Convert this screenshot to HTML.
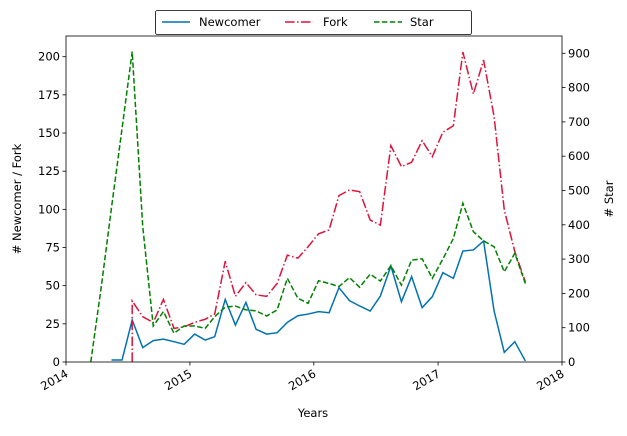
<!DOCTYPE html>
<html><head><meta charset="utf-8"><style>
html,body{margin:0;padding:0;background:#fff;}
svg text{font-family:"DejaVu Sans","Liberation Sans",sans-serif;font-size:11.5px;fill:#000;}
</style></head><body>
<svg id="chart" width="627" height="431" xmlns="http://www.w3.org/2000/svg">
<rect x="66" y="36" width="496" height="326" fill="#fff" stroke="none"/>
<g id="series"></g>
<rect x="66" y="36" width="496" height="326" fill="none" stroke="#000" stroke-width="0.8"/>
<g id="axes"></g>
<text x="313" y="417" text-anchor="middle">Years</text>
<text transform="translate(21,199) rotate(-90)" text-anchor="middle"># Newcomer / Fork</text>
<text transform="translate(613,199) rotate(-90)" text-anchor="middle"># Star</text>
<g>
<rect x="155.5" y="10.5" width="316" height="24" rx="2" fill="#fff" stroke="#000" stroke-width="0.8"/>
<line x1="162" y1="22" x2="190" y2="22" stroke="#0072b2" stroke-width="1.5"/>
<text x="199" y="26">Newcomer</text>
<line x1="285" y1="22" x2="313" y2="22" stroke="#dc143c" stroke-width="1.5" stroke-dasharray="9.6,2.4,1.5,2.4"/>
<text x="323" y="26">Fork</text>
<line x1="374" y1="22" x2="402" y2="22" stroke="#008000" stroke-width="1.5" stroke-dasharray="5.5,2.4"/>
<text x="410" y="26">Star</text>
</g>
</svg>
<script>
// months from Mar 2014 (index 0) to Sep 2017 (index 42)
const startYear = 2014, startMonth = 3;
const newcomer = [null,null,1.3,1.3,27.5,9.4,14,15,13.3,11.6,18.3,14.4,16.6,41,24.2,39,21.4,18.3,19.2,26,30.3,31.4,33,32.3,48.7,40.2,36.7,33.4,43.2,62.9,39.5,55.9,35.6,42.8,58.5,54.8,72.7,73.4,79.3,33.4,6.3,13.3,0.7];
const fork = [null,null,null,null,40,29.7,25.8,41,22,23,26,28,31.4,66,43,52,44,43,51.5,70,68,75.5,84,86.5,109,112.7,111.6,93,89.7,141.7,128,130.8,145,134.5,150.5,154.8,203,175.6,197.8,160.7,99.6,72.3,52.6];
const star = [0,220,450,680,905,395,105,147,84,105,105,98,132,160,163,152,149,134,152,244,186,171,237,229,220,246,218,256,236,281,224,297,301,244,300,360,463,380,353,336,263,317,229];
const leftTicks = [0,25,50,75,100,125,150,175,200];
const rightTicks = [0,100,200,300,400,500,600,700,800,900];
const yearTicks = [2014,2015,2016,2017,2018];

const NS = "http://www.w3.org/2000/svg";
const X0=66, X1=562, Y0=362;
const t0 = Date.UTC(2014,0,1), t1 = Date.UTC(2018,0,1);
function xDate(y,m,d){ return X0 + (Date.UTC(y,m-1,d)-t0)/(t1-t0)*(X1-X0); }
function xIdx(i){ const mm = startMonth-1+i; return xDate(startYear+Math.floor(mm/12), mm%12+1, 15); }
function yL(v){ return Y0 - v*(305.3/200); }
function yR(v){ return Y0 - v*(308.7/900); }

const series = document.getElementById('series');
function draw(arr, yf, color, dash, name, dropStart){
  let d = '';
  arr.forEach((v,i)=>{
    if(v===null) return;
    if(d===''){ d = dropStart ? 'M'+xIdx(i).toFixed(2)+','+yf(0).toFixed(2)+' L' : 'M'; }
    else d += ' L';
    d += xIdx(i).toFixed(2)+','+yf(v).toFixed(2);
  });
  const p = document.createElementNS(NS,'path');
  p.setAttribute('d',d);
  p.setAttribute('fill','none');
  p.setAttribute('stroke',color);
  p.setAttribute('stroke-width','1.5');
  if(dash) p.setAttribute('stroke-dasharray',dash);
  
  
  series.appendChild(p);
}
draw(newcomer, yL, '#0072b2', null, 'newcomer-line', false);
draw(fork, yL, '#dc143c', '9.6,2.4,1.5,2.4', 'fork-line', true);
draw(star, yR, '#008000', '5.5,2.4', 'star-line', false);

const axes = document.getElementById('axes');
function line(x1,y1,x2,y2,name){
  const l = document.createElementNS(NS,'line');
  l.setAttribute('x1',x1);l.setAttribute('y1',y1);l.setAttribute('x2',x2);l.setAttribute('y2',y2);
  l.setAttribute('stroke','#000');l.setAttribute('stroke-width','0.8');
  
  
  axes.appendChild(l);
}
function text(x,y,s,anchor,name,tr){
  const t = document.createElementNS(NS,'text');
  t.setAttribute('x',x);t.setAttribute('y',y);t.setAttribute('text-anchor',anchor);
  if(tr) t.setAttribute('transform',tr);
  t.textContent = s;
  
  
  axes.appendChild(t);
}
leftTicks.forEach(v=>{ const y=yL(v); line(X0-3.5,y,X0,y,'left-tick'); text(X0-6,y+4,String(v),'end','left-tick-label'); });
rightTicks.forEach(v=>{ const y=yR(v); line(X1,y,X1+3.5,y,'right-tick'); text(X1+6,y+4,String(v),'start','right-tick-label'); });
yearTicks.forEach(yr=>{ const x=xDate(yr,1,1); line(x,Y0,x,Y0+3.5,'x-tick'); const tx=x+3, ty=Y0+14; text(tx,ty,String(yr),'end','x-tick-label','rotate(-30 '+tx+' '+ty+')'); });
</script>
</body></html>
